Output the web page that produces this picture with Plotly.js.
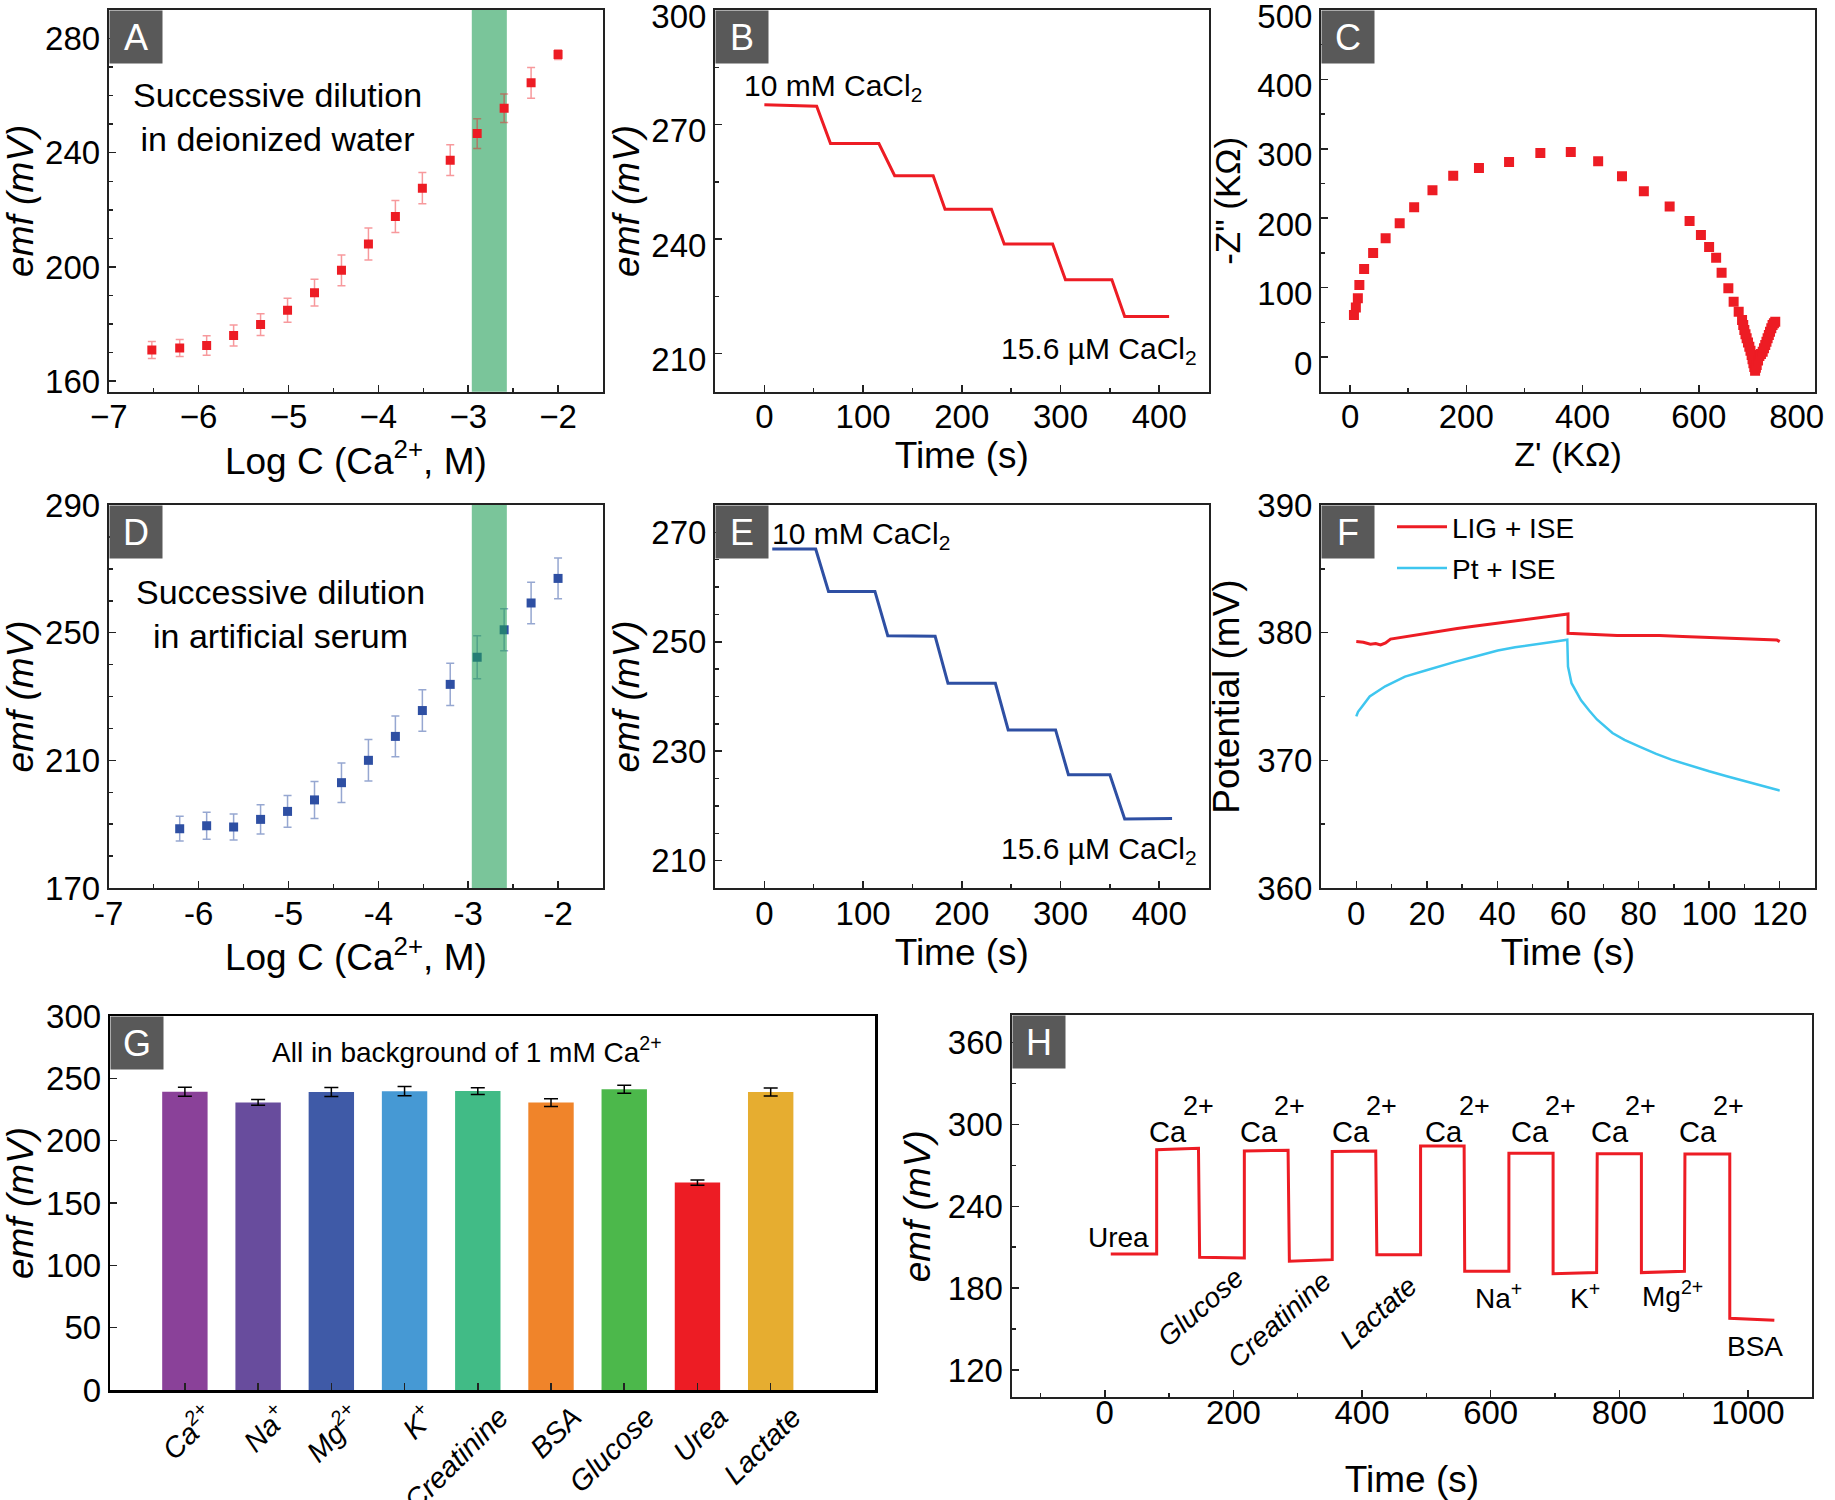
<!DOCTYPE html>
<html><head><meta charset="utf-8">
<script src="https://cdn.plot.ly/plotly-3.0.1.min.js"></script>
<style>html,body{margin:0;padding:0;background:#fff}</style>
</head><body><div id="chart" style="width:1835px;height:1500px"></div>
<script>
// ---------- DATA ----------
// Panel A: successive dilution in deionized water
const A_logC = [-6.52,-6.21,-5.91,-5.61,-5.31,-5.01,-4.71,-4.41,-4.11,-3.81,-3.51,-3.20,-2.90,-2.60,-2.30,-2.00];
const A_emf  = [170.9,171.6,172.5,176.0,179.8,184.8,191.0,198.8,208.0,217.7,227.6,237.4,246.7,255.6,264.5,274.4];
const A_err  = [3.0,3.0,3.4,3.7,3.8,4.2,4.7,5.4,5.6,5.6,5.5,5.4,5.2,5.0,5.4,1.7];
// Panel B: time trace in water
const B_time = [0,53,67,116,132,171,183,230,243,292,305,352,365,410];
const B_emf  = [275.2,274.8,265.0,265.0,256.6,256.6,247.8,247.8,238.7,238.7,229.3,229.3,219.7,219.7];
// Panel C: Nyquist plot
const C_zre = [6.7,10,13.4,16,24.2,39.7,61.2,85.4,110.3,141.8,177.5,221.8,273.6,327.4,379.8,426.9,467.9,505.5,549.9,584.2,603.7,617.8,629.9,639.3,650.9,660.0,668.7,674.5,676.5,678.4,680.4,682.4,684.7,687,689,691,692.5,694,695.5,696.9,698.3,699.7,702,704.3,707,710,712.2,714.4,716.5,718.5,720.6,722.6,724.8,727,729.3,731.6];
const C_zim = [60.5,71.5,84.5,103.7,126.8,149.8,171,192.6,215.6,240.1,261.2,272.3,280.9,293.9,295.3,281.9,260.3,238.7,217,195.9,175.8,158.5,143.1,121.5,99.0,79.7,65.3,53.3,46.1,38.9,32.9,26.9,20.9,14.8,8.9,2.9,-3.1,-9.1,-14.4,-19.7,-15.6,-11.5,-5.1,1.4,4.5,7.6,12.5,17.3,22.1,26.9,31.7,36.4,41.3,46.1,48.5,50.8];
const C_xTickVals = [0,200,400,600,800];
const C_xTickText = ['0','200','400','600','800&nbsp;&nbsp;&nbsp;&nbsp;'];
// Panel D: successive dilution in artificial serum
const D_logC = [-6.21,-5.91,-5.61,-5.31,-5.01,-4.71,-4.41,-4.11,-3.81,-3.51,-3.20,-2.90,-2.60,-2.30,-2.00];
const D_emf  = [188.6,189.5,189.1,191.5,194.0,197.6,203.0,210.0,217.5,225.6,233.8,242.3,250.9,259.3,267.0];
const D_err  = [3.9,4.2,4.1,4.6,5.0,5.8,6.2,6.5,6.4,6.5,6.6,6.7,6.6,6.5,6.4];
const D_tickVals = [-7,-6,-5,-4,-3,-2];
const D_tickLabels = ['-7','-6','-5','-4','-3','-2'];
// Panel E: time trace in artificial serum
const E_time = [8,52,65,112,125,173,186,234,247,295,308,350,365,413];
const E_emf  = [266.95,266.95,259.2,259.2,251.1,251.0,242.4,242.4,233.9,233.9,225.7,225.7,217.6,217.7];
// Panel F: water layer test
const F_lig_t = [0,2,4,5.5,6.9,8.3,9.7,12,14.4,19,23.9,28.6,33.3,38,42.8,47.5,52.2,55,57.8,60,60,64.4,69,73.9,79.6,85.9,92.5,99.2,105,110.3,115,119.2,120];
const F_lig_v = [379.3,379.25,379.1,379.15,379.04,379.2,379.5,379.6,379.74,379.95,380.16,380.32,380.5,380.68,380.86,381.03,381.2,381.3,381.38,381.46,379.95,379.9,379.85,379.77,379.77,379.77,379.7,379.64,379.57,379.5,379.47,379.43,379.3];
const F_pt_t  = [0,0.5,1.6,3.8,8.2,13.8,20.1,23.9,28.2,34,40.1,45,50.4,55,59.8,60,61,62.6,63.7,66,68.2,72.6,76,80.1,85,89.3,95,100,105,110.3,115,120];
const F_pt_v  = [373.44,373.8,374.2,375.0,375.8,376.56,377.08,377.4,377.73,378.15,378.6,378.85,379.04,379.25,379.45,377.34,376.04,375.3,374.7,373.9,373.2,372.14,371.6,371.1,370.5,370.05,369.55,369.14,368.75,368.36,368.0,367.63];
const F_names = ['LIG + ISE','Pt + ISE'];
// Panel G: selectivity bars
const G_labels = ['Ca<sup>2+</sup>','Na<sup>+</sup>','Mg<sup>2+</sup>','K<sup>+</sup>','Creatinine','BSA','Glucose','Urea','Lactate'];
const G_emf    = [239.2,230.7,239.0,239.7,239.8,230.6,241.3,166.4,239.0];
const G_err    = [3.6,2.3,3.6,3.7,2.7,3.1,3.2,2.1,3.2];
const G_colors = ['#8a4199','#684c9d','#3f5aa7','#4699d4','#41bb86','#f0842a','#4cb84b','#ed1c24','#e6ad30'];
// Panel H: interference time trace
const H_time = [9.3,80.7,80.7,145.7,147.5,217,217,285,287,353.6,353.6,421.3,423,491,491,558.7,559.6,628.3,628.3,697,697,764.7,765.6,834.3,834.3,901.2,902,971.7,971.7,1041];
const H_emf  = [205.0,205.0,281.5,282.5,202.6,202.1,280.6,281.1,199.7,200.9,280.1,280.6,204.5,204.5,284.2,284.2,192.4,192.4,278.9,278.9,190.5,191.4,278.6,278.6,191.4,192.4,278.4,278.4,157.9,156.4];

// ---------- STYLE / LAYOUT ----------
const W = 1835, H = 1500;
const FONT = 'Liberation Sans, Arial, sans-serif';
const RED = '#ed1c24', BLUE = '#2e4fa3', CYAN = '#3ec6ef';
const PX = x => x / W, PY = y => 1 - y / H;

function ax(dom, range, dtick, mdtick, anchor, extra) {
  const a = {
    domain: dom, range: range, dtick: dtick, anchor: anchor,
    showgrid: false, zeroline: false, showline: true, mirror: true,
    linecolor: '#222', linewidth: 2, ticks: 'inside', ticklen: 7, tickwidth: 1.5, tickcolor: '#222',
    tickfont: {family: FONT, size: 33, color: '#000'}, fixedrange: true, automargin: false,
    ticklabeloverflow: 'allow'
  };
  if (mdtick) a.minor = {dtick: mdtick, ticks: 'inside', ticklen: 4, tickwidth: 1.5, tickcolor: '#222', showgrid: false};
  return Object.assign(a, extra || {});
}
function ttl(text, standoff, italic, size) {
  return {text: text, standoff: standoff, font: {family: FONT, size: size || 37, color: '#000', style: italic ? 'italic' : 'normal'}};
}
const EMF = 'emf (mV)';

const xA = [PX(108.7), PX(603)], xB = [PX(715), PX(1208.6)], xC = [PX(1321), PX(1815)];
const yR1 = [PY(391.7), PY(10)], yR2 = [PY(888), PY(505)];

const traces = [
  {type:'scatter', mode:'markers', x:A_logC, y:A_emf, xaxis:'x', yaxis:'y', showlegend:false,
   marker:{symbol:'square', size:9, color:RED},
   error_y:{type:'data', array:A_err, color:'rgba(237,28,36,0.45)', thickness:1.5, width:4}},
  {type:'scatter', mode:'lines', x:B_time, y:B_emf, xaxis:'x2', yaxis:'y2', showlegend:false,
   line:{color:RED, width:3}},
  {type:'scatter', mode:'markers', x:C_zre, y:C_zim, xaxis:'x3', yaxis:'y3', showlegend:false,
   marker:{symbol:'square', size:10, color:RED}},
  {type:'scatter', mode:'markers', x:D_logC, y:D_emf, xaxis:'x4', yaxis:'y4', showlegend:false,
   marker:{symbol:'square', size:9, color:BLUE},
   error_y:{type:'data', array:D_err, color:'rgba(46,79,163,0.5)', thickness:1.5, width:4}},
  {type:'scatter', mode:'lines', x:E_time, y:E_emf, xaxis:'x5', yaxis:'y5', showlegend:false,
   line:{color:BLUE, width:3}},
  {type:'scatter', mode:'lines', name:F_names[0], legendgroup:'lig', x:F_lig_t, y:F_lig_v, xaxis:'x6', yaxis:'y6',
   line:{color:RED, width:3}},
  {type:'scatter', mode:'lines', name:F_names[1], legendgroup:'pt', x:F_pt_t, y:F_pt_v, xaxis:'x6', yaxis:'y6',
   line:{color:CYAN, width:2.5}},
  {type:'bar', x:G_labels, y:G_emf, xaxis:'x7', yaxis:'y7', showlegend:false, width:0.62,
   marker:{color:G_colors, line:{width:0}},
   error_y:{type:'data', array:G_err, color:'#000', thickness:1.5, width:7}},
  {type:'scatter', mode:'lines', x:H_time, y:H_emf, xaxis:'x8', yaxis:'y8', showlegend:false,
   line:{color:RED, width:3}}
];

function label(letter, xr, yr) {
  return {xref: xr + ' domain', yref: yr + ' domain', x: 0, y: 1, xanchor: 'left', yanchor: 'top',
    text: letter, showarrow: false, bgcolor: '#595959', width: 52, height: 52, borderpad: 0,
    font: {family: FONT, size: 36, color: '#fff'}};
}
function note(text, x, y, opts) {
  return Object.assign({xref: 'paper', yref: 'paper', x: PX(x), y: PY(y), xanchor: 'center', yanchor: 'middle',
    text: text, showarrow: false, font: {family: FONT, size: 34, color: '#000'}}, opts || {});
}
const nf = (size, italic) => ({family: FONT, size: size, color: '#000', style: italic ? 'italic' : 'normal'});

const annotations = [
  label('A','x','y'), label('B','x2','y2'), label('C','x3','y3'), label('D','x4','y4'),
  label('E','x5','y5'), label('F','x6','y6'), label('G','x7','y7'), label('H','x8','y8'),
  note('Successive dilution<br>in deionized water', 277, 117),
  note('Successive dilution<br>in artificial serum', 280, 614),
  note('10 mM CaCl<sub>2</sub>', 742, 88, {xanchor:'left', font: nf(30)}),
  note('15.6 µM CaCl<sub>2</sub>', 999, 350, {xanchor:'left', font: nf(30)}),
  note('10 mM CaCl<sub>2</sub>', 770, 535, {xanchor:'left', font: nf(30)}),
  note('15.6 µM CaCl<sub>2</sub>', 999, 850, {xanchor:'left', font: nf(30)}),
  note('All in background of 1 mM Ca<sup>2+</sup>', 467, 1050, {font: nf(28)}),
  note('Urea', 1118, 1237, {font: nf(28)}),
  note('Glucose', 1200, 1307, {font: nf(28, true), textangle: -41}),
  note('Creatinine', 1279, 1319, {font: nf(28, true), textangle: -42}),
  note('Lactate', 1378, 1312, {font: nf(28, true), textangle: -42}),
  note('Na<sup>+</sup>', 1498, 1296, {font: nf(28)}),
  note('K<sup>+</sup>', 1585, 1296, {font: nf(28)}),
  note('Mg<sup>2+</sup>', 1672, 1294, {font: nf(28)}),
  note('BSA', 1755, 1346, {font: nf(28)})
];
const caX = [1168, 1259, 1351, 1444, 1530, 1610, 1698];
caX.forEach(x => {
  annotations.push(note('Ca', x, 1132, {font: nf(29)}));
  annotations.push(note('2+', x + 30, 1106, {font: nf(27)}));
});

const layout = {
  width: W, height: H, margin: {l:0, r:0, t:0, b:0}, paper_bgcolor: '#fff', plot_bgcolor: '#fff',
  font: {family: FONT, color: '#000'},
  showlegend: true,
  legend: {x: PX(1392), y: PY(502), xanchor: 'left', yanchor: 'top', xref: 'paper', yref: 'paper',
    font: {family: FONT, size: 28, color: '#000'}, bgcolor: 'rgba(0,0,0,0)', itemwidth: 50, tracegroupgap: 2},
  xaxis:  ax(xA, [-7, -1.5], 1, 0.5, 'y', {ticklabelstandoff: -5, title: ttl('Log C (Ca<sup>2+</sup>, M)', 8)}),
  yaxis:  ax(yR1, [156.3, 290], 40, 10, 'x', {title: ttl(EMF, 6, true)}),
  xaxis2: ax(xB, [-50, 450], 100, 50, 'y2', {ticklabelstandoff: -5, title: ttl('Time (s)', 8)}),
  yaxis2: ax(yR1, [200, 300], 30, 15, 'x2', {ticklabelshift: 6, title: ttl(EMF, 0, true)}),
  xaxis3: ax(xC, [-50, 800], 200, 100, 'y3', {ticklabelstandoff: -5, tickmode:'array', tickvals:C_xTickVals, ticktext:C_xTickText, title: ttl("Z' (KΩ)", 8, false, 34)}),
  yaxis3: ax(yR1, [-50, 500], 100, 50, 'x3', {ticklabelshift: 6, title: ttl('-Z" (KΩ)', 6, false, 35)}),
  xaxis4: ax(xA, [-7, -1.5], 1, 0.5, 'y4', {ticklabelstandoff: -5, tickmode:'array', tickvals:D_tickVals, ticktext:D_tickLabels, title: ttl('Log C (Ca<sup>2+</sup>, M)', 8)}),
  yaxis4: ax(yR2, [170, 290], 40, 10, 'x4', {tick0: 170, minor:{dtick:10, tick0:170, ticks:'inside', ticklen:4, tickwidth:1.5, tickcolor:'#222'}, title: ttl(EMF, 6, true)}),
  xaxis5: ax(xB, [-50, 450], 100, 50, 'y5', {ticklabelstandoff: -5, title: ttl('Time (s)', 8)}),
  yaxis5: ax(yR2, [205, 275], 20, 5, 'x5', {tick0: 10, title: ttl(EMF, 0, true)}),
  xaxis6: ax(xC, [-10, 130], 20, 10, 'y6', {ticklabelstandoff: -5, title: ttl('Time (s)', 8)}),
  yaxis6: ax(yR2, [360, 390], 10, 5, 'x6', {title: ttl('Potential (mV)', 6)}),
  xaxis7: ax([PX(110.2), PX(875.4)], [-1.02, 9.43], null, null, 'y7', {type:'category', tickangle:-45, linewidth:2.5, linecolor:'#000',
           ticklabelshift: 22, ticklabelstandoff: -4,
           tickfont:{family: FONT, size: 29, color:'#000', style:'italic'}}),
  yaxis7: ax([PY(1390), PY(1016)], [0, 300], 50, null, 'x7', {linewidth:2.5, linecolor:'#000', title: ttl(EMF, 6, true)}),
  xaxis8: ax([PX(1011.5), PX(1812.3)], [-145, 1100], 200, 100, 'y8', {ticklabelstandoff: -15, title: ttl('Time (s)', 42)}),
  yaxis8: ax([PY(1397.3), PY(1015.3)], [100, 380], 60, 30, 'x8', {title: ttl(EMF, 6, true)}),
  shapes: [
    {type:'rect', xref:'x', yref:'y domain', x0:-2.96, x1:-2.57, y0:0, y1:1, fillcolor:'rgb(122,197,154)', line:{width:0}, layer:'below'},
    {type:'rect', xref:'x4', yref:'y4 domain', x0:-2.96, x1:-2.57, y0:0, y1:1, fillcolor:'rgb(33,158,87)', opacity:0.6, line:{width:0}, layer:'above'}
  ],
  annotations: annotations
};

Plotly.newPlot('chart', traces, layout, {staticPlot: true, displayModeBar: false});
</script></body></html>
